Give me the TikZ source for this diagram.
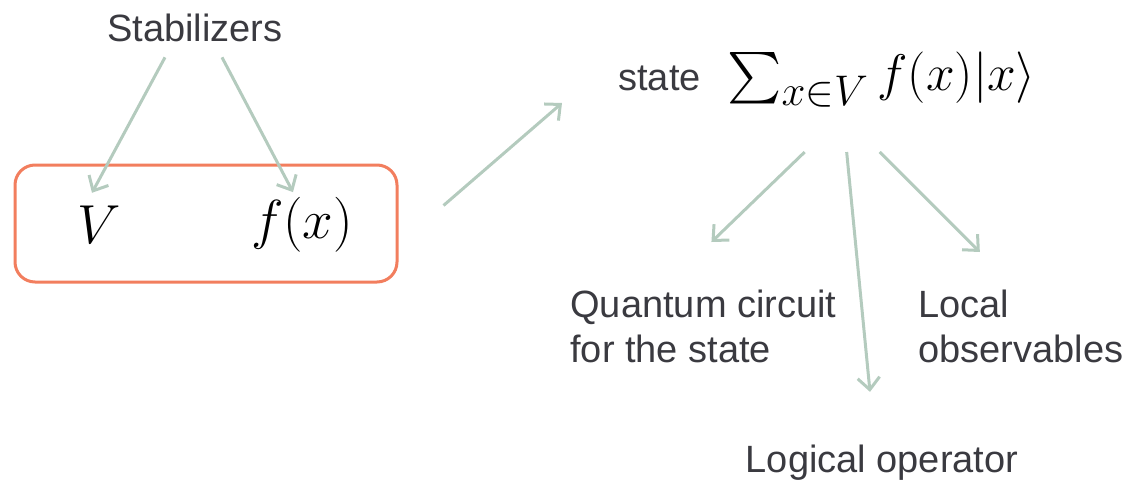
\documentclass[tikz,border=0pt]{standalone}
\usepackage{exscale}
\usepackage{fontspec}
\setmainfont{Liberation Sans}
\usetikzlibrary{arrows.meta}

\definecolor{arrowgreen}{HTML}{B4CBBE}
\definecolor{boxorange}{HTML}{F27E5E}
\definecolor{textgray}{HTML}{3A3A40}

\tikzset{
    label/.style={inner sep=0pt, text=textgray, font=\fontsize{19}{22.5}\selectfont},
    mathlabel/.style={inner sep=0pt, text=black, font=\fontsize{24.88}{30}\selectfont, scale=1.105},
    statemath/.style={inner sep=0pt, text=black, font=\fontsize{24.88}{30}\selectfont, scale=1.034},
    pointer/.style={draw=arrowgreen, line width=1.5pt, -{Straight Barb[length=6pt, width=11pt, line width=1.5pt]}},
    framebox/.style={draw=boxorange, line width=1.5pt, rounded corners=10pt, minimum width=191pt, minimum height=58.5pt, inner sep=0pt}
}

\begin{document}
\begin{tikzpicture}[x=0.5pt, y=-0.5pt]
\useasboundingbox (0,0) rectangle (1131,487);

% ===== Left: stabilizers and the box =====
\node[label] (stab) at (195,28) {Stabilizers};
\node[framebox] (box) at (206,223.5) {};
\node[mathlabel] (vset) at (99,225) {$V$};
\node[mathlabel] (fx) at (302,225) {$f(x)$};
\draw[pointer] ([xshift=-15pt, yshift=-7.5pt]stab.south) -- ([xshift=-3.5pt, yshift=6.5pt]vset.north);
\draw[pointer] ([xshift=13.5pt, yshift=-7.5pt]stab.south) -- ([xshift=-4.5pt, yshift=2.5pt]fx.north);

% ===== Right: the state =====
\node[label, anchor=west] (statelbl) at (618,78) {state};
\node[statemath, anchor=west] (sum) at (727,80) {$\sum_{x\in V} f(x)|x\rangle$};
\draw[pointer] ([xshift=22.5pt, yshift=9pt]box.east) -- ([xshift=-28pt, yshift=-12.5pt]statelbl.west);

% ===== Consequences =====
\node[label, align=left, anchor=north west] (circuit) at (570,290) {Quantum circuit\\for the state};
\node[label, align=left, anchor=north west] (local) at (918,290) {Local\\observables};
\node[label] (logical) at (882,463) {Logical operator};
\draw[pointer] ([xshift=-38.5pt, yshift=-22pt]sum.south) -- ([xshift=4pt, yshift=24pt]circuit.north);
\draw[pointer] ([xshift=-17.5pt, yshift=-22pt]sum.south) -- ([xshift=-6pt, yshift=26.5pt]logical.north);
\draw[pointer] ([xshift=-1pt, yshift=-22pt]sum.south) -- ([xshift=-20.5pt, yshift=19pt]local.north);

\end{tikzpicture}
\end{document}
